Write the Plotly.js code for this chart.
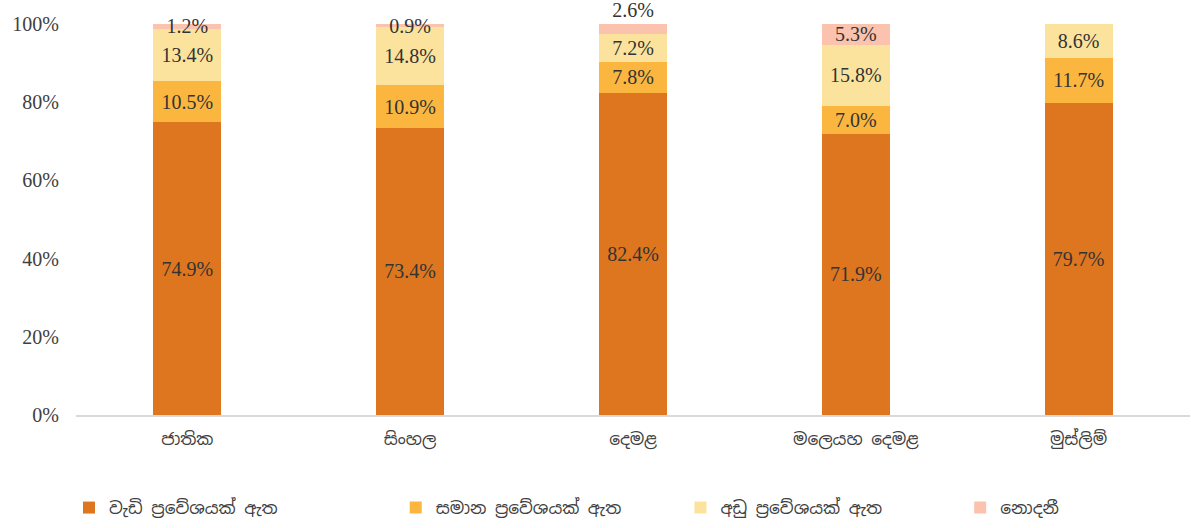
<!DOCTYPE html>
<html><head><meta charset="utf-8">
<script src="https://cdn.plot.ly/plotly-3.0.1.min.js"></script>
<style>html,body{margin:0;padding:0;background:#fff;}</style>
</head><body>
<div id="chart" style="width:1191px;height:528px;"></div>
<script>
const categories = ['ජාතික', 'සිංහල', 'දෙමළ', 'මලෙයහ දෙමළ', 'මුස්ලිම්'];
const seriesNames = ['වැඩි ප්‍රවේශයක් ඇත', 'සමාන ප්‍රවේශයක් ඇත', 'අඩු ප්‍රවේශයක් ඇත', 'නොදනී'];
const highAccess = [74.9, 73.4, 82.4, 71.9, 79.7];
const equalAccess = [10.5, 10.9, 7.8, 7.0, 11.7];
const lowAccess = [13.4, 14.8, 7.2, 15.8, 8.6];
const dontKnow = [1.2, 0.9, 2.6, 5.3, 0];
const colors = ['#DE7620', '#FBB63F', '#FCE39D', '#FBC3AD'];
const yTicks = [0, 20, 40, 60, 80, 100];

const seriesValues = [highAccess, equalAccess, lowAccess, dontKnow];
const legendIds = ['legend', 'legend2', 'legend3', 'legend4'];
const legendX = [-0.0063, 0.287, 0.5426, 0.7937];
const serif = 'Liberation Serif, Times New Roman, serif';
const sinhalaFont = 'Noto Sans Sinhala, Iskoola Pota, Noto Sans, sans-serif';

const traces = seriesValues.map((vals, i) => {
  const isTop = i === seriesValues.length - 1;
  return {
    type: 'bar',
    name: seriesNames[i],
    x: categories,
    y: vals,
    legend: legendIds[i],
    marker: {color: colors[i], line: {width: 0}},
    text: vals.map(v => v > 0 ? v.toFixed(1) + '%' : ''),
    textposition: isTop ? vals.map((v, j) => categories[j] === 'දෙමළ' ? 'outside' : 'inside') : 'inside',
    insidetextanchor: 'middle',
    constraintext: 'none',
    textfont: {family: serif, size: 20, color: '#333333'},
    hoverinfo: 'x+y+name'
  };
});

const layout = {
  barmode: 'stack',
  bargap: 0.695,
  width: 1191, height: 528,
  margin: {l: 76, r: 1, t: 0, b: 113},
  paper_bgcolor: '#ffffff', plot_bgcolor: '#ffffff',
  showlegend: true,
  xaxis: {
    type: 'category',
    showline: true, linecolor: '#D9D9D9', linewidth: 1.5,
    ticks: '', showgrid: false, ticklabelstandoff: 8,
    tickfont: {family: sinhalaFont, size: 17, color: '#404040'}
  },
  yaxis: {
    range: [0, 106.1], tickvals: yTicks, ticktext: yTicks.map(t => t + '%'),
    showgrid: false, zeroline: false, showline: false, ticks: '',
    ticklabelstandoff: 16,
    tickfont: {family: serif, size: 20, color: '#404040'}
  }
};
legendIds.forEach((id, i) => {
  layout[id] = {
    orientation: 'h', x: legendX[i], xanchor: 'left', y: -0.2675, yanchor: 'bottom',
    font: {family: sinhalaFont, size: 17, color: '#404040'},
    bgcolor: 'rgba(0,0,0,0)'
  };
});

Plotly.newPlot('chart', traces, layout, {displayModeBar: false, staticPlot: true});
</script>
</body></html>
